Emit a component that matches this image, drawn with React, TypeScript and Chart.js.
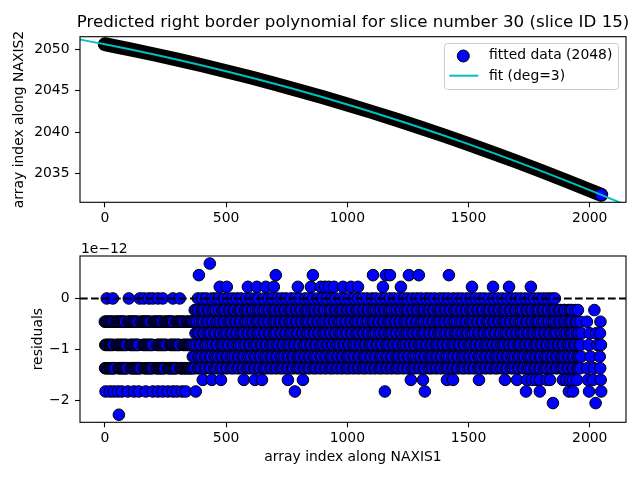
import { useEffect, useRef } from "react";
import { Chart, registerables, type ChartConfiguration, type Plugin } from "chart.js";

Chart.register(...registerables);

const FONT = "'DejaVu Sans', sans-serif";
const TICK_SIZE = 13.9;
const BLUE = "#0000ff";
const CYAN = "#00bfbf";

Chart.defaults.font.family = FONT;
Chart.defaults.font.size = TICK_SIZE;
Chart.defaults.color = "#000";

// ---- top panel: right border read along the band, and the deg=3 fit ----
const borderX = [0, 100, 200, 300, 400, 500, 600, 700, 800, 900, 1000, 1100, 1200, 1300, 1400, 1500, 1600, 1700, 1800, 1900, 2000, 2047];
const borderY = [2050.61, 2050.02, 2049.4, 2048.75, 2048.07, 2047.36, 2046.62, 2045.85, 2045.04, 2044.21, 2043.35, 2042.45, 2041.53, 2040.57, 2039.58, 2038.57, 2037.52, 2036.44, 2035.33, 2034.19, 2033.02, 2032.46];
const fitX = [-150, 0, 250, 500, 750, 1000, 1250, 1500, 1750, 2000, 2200];
const fitY = [2051.44, 2050.61, 2049.08, 2047.36, 2045.45, 2043.35, 2041.05, 2038.57, 2035.89, 2033.02, 2030.59];
const xTicks = [0, 500, 1000, 1500, 2000];
const topYTicks = [2035, 2040, 2045, 2050];

// ---- bottom panel: residuals (units of 1e-12) fall on discrete levels ----
const residualLevels = [0.682, 0.455, 0.227, 0, -0.227, -0.455, -0.682, -0.909, -1.137, -1.364, -1.592, -1.819, -2.046, -2.274];
const bottomYTicks = [-2, -1, 0];

const xAtPlus0682 = [433];
const xAtPlus0455 = [388, 705, 858, 1106, 1159, 1176, 1254, 1295, 1419];
const xAtPlus0227 = [474, 503, 590, 627, 664, 697, 796, 850, 891, 908, 924, 945, 982, 1015, 1044, 1147, 1221, 1514, 1601, 1667, 1757];
const xAtZero = [
  8, 33, 99, 144, 161, 182, 198, 219, 239, 281, 309,
  384, 402, 418, 441, 456, 470, 493, 509, 527, 545, 562, 583, 601, 620, 634, 655, 676, 690, 712, 730, 747, 768, 785, 803, 826, 842, 860, 879, 897, 915, 936, 951, 972, 990, 1006, 1028, 1046, 1063, 1081, 1102, 1118, 1139, 1157, 1176, 1193, 1212, 1233, 1249, 1268, 1287, 1304, 1325, 1342, 1360, 1381, 1398, 1416, 1437, 1455, 1472, 1493, 1510, 1529, 1548, 1566, 1587, 1603, 1622, 1640, 1659, 1680, 1697, 1715, 1734, 1752, 1771, 1790, 1808, 1826, 1842, 1856,
];
const xAtMinus0227 = [
  371, 377, 386, 399, 404, 412, 425, 431, 444, 452, 458, 471, 484, 490, 497, 511, 518, 530, 536, 549, 557, 563, 578, 585, 592, 606, 611, 624, 633, 640, 653, 660, 671, 679, 693, 699, 706, 720, 727, 739, 744, 758, 766, 773, 787, 793, 806, 812, 826, 833, 840, 852, 861, 869, 882, 889, 902, 907, 921, 929, 935, 949, 955, 968, 976, 983, 997,
  1004, 1016, 1022, 1036, 1042, 1050, 1064, 1071, 1084, 1089, 1103, 1110, 1118, 1131, 1138, 1151, 1157, 1170, 1177, 1185, 1198, 1206, 1219, 1225, 1238, 1246, 1253, 1267, 1273, 1286, 1292, 1306, 1314, 1320, 1334, 1341, 1353, 1359, 1373, 1381, 1388, 1401, 1408, 1421, 1427, 1440, 1447, 1455, 1468, 1475, 1488, 1493,
  1507, 1515, 1522, 1536, 1542, 1555, 1561, 1575, 1583, 1589, 1603, 1610, 1623, 1628, 1642, 1649, 1657, 1670, 1677, 1690, 1696, 1709, 1717, 1724, 1738, 1745, 1757, 1763, 1777, 1785, 1792, 1805, 1812, 1825, 1830, 1844, 1851, 1859, 1872, 1879, 1892, 1898, 1911, 1919, 1926, 1940, 1951, 2019,
];
const xAtMinus0455 = [
  0, 4, 8, 12, 15, 19, 23, 27, 31, 35, 44, 48, 52, 55, 59, 63, 67, 71, 75, 79, 83, 96, 100, 103, 107, 111, 115, 119, 123, 127, 131, 135, 148, 152, 156, 160, 163, 167, 171, 175, 179, 183, 187, 200, 204, 208, 212, 216, 219, 223, 227, 231, 235, 246, 250, 254, 258, 262, 266, 270, 273, 277, 281, 294, 298, 302, 306, 310, 314, 318, 322, 326, 337, 341, 345, 349, 353, 357, 361, 365,
  372, 380, 393, 401, 408, 421, 428, 440, 447, 461, 467, 476, 489, 495, 509, 516, 523, 537, 543, 556, 563, 577, 583, 592, 604, 611, 625, 631, 639, 652, 659, 672, 679, 693, 699, 707, 720, 727, 740, 746, 760, 767, 775, 788, 794, 808, 814, 828, 835, 843, 856, 862, 876, 882, 895, 902, 911, 923, 930, 944, 950, 963, 970, 978, 991, 998,
  1011, 1018, 1031, 1038, 1046, 1059, 1066, 1079, 1086, 1099, 1106, 1114, 1127, 1133, 1147, 1153, 1167, 1174, 1182, 1195, 1201, 1215, 1221, 1234, 1241, 1250, 1262, 1269, 1283, 1289, 1302, 1309, 1317, 1330, 1337, 1350, 1357, 1370, 1377, 1385, 1398, 1405, 1418, 1425, 1438, 1445, 1453, 1466, 1473, 1486, 1493,
  1506, 1513, 1521, 1534, 1541, 1554, 1560, 1574, 1581, 1589, 1602, 1608, 1622, 1628, 1641, 1648, 1657, 1670, 1676, 1690, 1696, 1709, 1716, 1724, 1737, 1744, 1757, 1764, 1777, 1784, 1792, 1805, 1812, 1825, 1832, 1845, 1852, 1860, 1873, 1880, 1893, 1900, 1913, 1920, 1928, 1941, 1948, 1961, 1988, 2044,
];
const xAtMinus0682 = [
  374, 383, 390, 404, 410, 423, 431, 437, 451, 459, 472, 478, 491, 498, 507, 519, 526, 540, 546, 560, 567, 574, 588, 595, 608, 614, 627, 634, 643, 656, 662, 676, 683, 696, 702, 710, 724, 730, 744, 750, 763, 770, 779, 791, 798, 812, 818, 831, 838, 846, 860, 866, 879, 886, 899, 906, 914, 927, 934, 947, 954, 967, 974, 982, 995,
  1002, 1015, 1022, 1035, 1042, 1050, 1063, 1070, 1083, 1090, 1103, 1110, 1118, 1131, 1138, 1151, 1158, 1171, 1178, 1186, 1199, 1206, 1219, 1226, 1239, 1246, 1254, 1267, 1274, 1287, 1294, 1307, 1314, 1322, 1335, 1342, 1355, 1362, 1375, 1382, 1390, 1403, 1410, 1423, 1430, 1443, 1450, 1458, 1471, 1478, 1491, 1498,
  1511, 1518, 1526, 1539, 1546, 1559, 1566, 1579, 1586, 1594, 1607, 1614, 1627, 1634, 1647, 1654, 1662, 1675, 1682, 1695, 1702, 1715, 1722, 1730, 1743, 1750, 1763, 1770, 1783, 1790, 1798, 1811, 1818, 1831, 1838, 1851, 1858, 1866, 1879, 1886, 1899, 1906, 1919, 1926, 1934, 1947, 1955, 1966, 2000, 2026, 2042,
];
const xAtMinus0909 = [
  2, 6, 10, 14, 18, 22, 26, 30, 34, 46, 50, 54, 58, 62, 66, 70, 74, 78, 82, 86, 90, 103, 107, 111, 115, 119, 123, 127, 131, 135, 139, 157, 161, 165, 169, 173, 177, 181, 185, 189, 193, 197, 214, 218, 222, 226, 230, 234, 238, 242, 246, 250, 254, 268, 272, 276, 280, 284, 288, 292, 296, 300, 304, 308, 322, 326, 330, 334, 338, 342, 346, 350, 354, 358, 362,
  369, 378, 391, 397, 411, 417, 426, 438, 446, 459, 465, 479, 485, 494, 507, 513, 527, 534, 547, 553, 562, 575, 582, 595, 601, 615, 622, 630, 643, 650, 663, 669, 683, 690, 698, 711, 718, 731, 737, 751, 758, 766, 779, 786, 799, 805, 819, 826, 834, 847, 854, 867, 873, 887, 894, 902, 915, 922, 935, 941, 955, 962, 970, 983, 990,
  1003, 1009, 1023, 1030, 1038, 1051, 1058, 1071, 1077, 1091, 1098, 1106, 1119, 1126, 1139, 1145, 1159, 1166, 1174, 1187, 1194, 1207, 1213, 1227, 1234, 1242, 1255, 1262, 1275, 1281, 1295, 1302, 1310, 1323, 1330, 1343, 1349, 1363, 1370, 1378, 1391, 1398, 1411, 1417, 1431, 1438, 1446, 1459, 1466, 1479, 1485, 1499,
  1506, 1514, 1527, 1534, 1547, 1553, 1567, 1574, 1582, 1595, 1602, 1615, 1621, 1635, 1642, 1650, 1663, 1670, 1683, 1689, 1703, 1710, 1718, 1731, 1738, 1751, 1757, 1771, 1778, 1786, 1799, 1806, 1819, 1825, 1839, 1846, 1854, 1867, 1874, 1887, 1893, 1907, 1914, 1922, 1935, 1942, 1955, 1962, 1996, 2031, 2046,
];
const xAtMinus1137 = [
  363, 372, 385, 392, 400, 413, 420, 433, 439, 453, 460, 468, 481, 488, 501, 507, 521, 528, 536, 549, 556, 569, 575, 589, 596, 604, 617, 624, 637, 643, 657, 664, 672, 685, 692, 705, 711, 725, 732, 740, 753, 760, 773, 779, 793, 800, 808, 821, 828, 841, 847, 861, 868, 876, 889, 896, 909, 915, 929, 936, 944, 957, 964, 977, 983, 997,
  1004, 1012, 1025, 1032, 1045, 1051, 1065, 1072, 1080, 1093, 1100, 1113, 1119, 1133, 1140, 1148, 1161, 1168, 1181, 1187, 1201, 1208, 1216, 1229, 1236, 1249, 1255, 1269, 1276, 1284, 1297, 1304, 1317, 1323, 1337, 1344, 1352, 1365, 1372, 1385, 1391, 1405, 1412, 1420, 1433, 1440, 1453, 1459, 1473, 1480, 1488,
  1501, 1508, 1521, 1527, 1541, 1548, 1556, 1569, 1576, 1589, 1595, 1609, 1616, 1624, 1637, 1644, 1657, 1663, 1677, 1684, 1692, 1705, 1712, 1725, 1731, 1745, 1752, 1760, 1773, 1780, 1793, 1799, 1813, 1820, 1828, 1841, 1848, 1861, 1867, 1881, 1888, 1896, 1909, 1916, 1929, 1935, 1949, 1956, 1964, 2003, 2041,
];
const xAtMinus1364 = [
  1, 5, 9, 13, 17, 21, 25, 29, 33, 37, 41, 56, 60, 64, 68, 72, 76, 80, 84, 88, 92, 107, 111, 115, 119, 123, 127, 131, 135, 139, 143, 147, 162, 166, 170, 174, 178, 182, 186, 190, 194, 198, 211, 215, 219, 223, 227, 231, 235, 239, 243, 247, 260, 264, 268, 272, 276, 280, 284, 288, 292, 296, 311, 315, 319, 323, 327, 331, 335, 339, 343, 347, 351, 355, 359, 365,
  371, 384, 390, 398, 411, 418, 431, 437, 451, 458, 466, 479, 486, 499, 505, 519, 526, 534, 547, 554, 567, 573, 587, 594, 602, 615, 622, 635, 641, 655, 662, 670, 683, 690, 703, 709, 723, 730, 738, 751, 758, 771, 777, 791, 798, 806, 819, 826, 839, 845, 859, 866, 874, 887, 894, 907, 913, 927, 934, 942, 955, 962, 975, 981, 995,
  1002, 1010, 1023, 1030, 1043, 1049, 1063, 1070, 1078, 1091, 1098, 1111, 1117, 1131, 1138, 1146, 1159, 1166, 1179, 1185, 1199, 1206, 1214, 1227, 1234, 1247, 1253, 1267, 1274, 1282, 1295, 1302, 1315, 1321, 1335, 1342, 1350, 1363, 1370, 1383, 1389, 1403, 1410, 1418, 1431, 1438, 1451, 1457, 1471, 1478, 1486, 1499,
  1506, 1519, 1525, 1539, 1546, 1554, 1567, 1574, 1587, 1593, 1607, 1614, 1622, 1635, 1642, 1655, 1661, 1675, 1682, 1690, 1703, 1710, 1723, 1729, 1743, 1750, 1758, 1771, 1778, 1791, 1797, 1811, 1818, 1826, 1839, 1846, 1859, 1865, 1879, 1886, 1894, 1907, 1914, 1927, 1933, 1947, 1954, 1962, 1990, 2017, 2043,
];
const xAtMinus1592 = [404, 441, 479, 573, 619, 648, 755, 817, 1262, 1312, 1411, 1436, 1543, 1650, 1700, 1741, 1761, 1778, 1794, 1823, 1836, 1889, 1902, 1918, 1931, 1947, 1992, 2013, 2045];
const xAtMinus1819 = [3, 21, 37, 54, 70, 95, 120, 140, 169, 198, 219, 239, 260, 281, 297, 318, 334, 375, 784, 1155, 1320, 1737, 1794, 1914, 1931, 1997, 2047];
const xAtMinus2046 = [1848, 2024];
const xAtMinus2274 = [58];

// same order as residualLevels
const levelColumns = [
  xAtPlus0682, xAtPlus0455, xAtPlus0227, xAtZero, xAtMinus0227, xAtMinus0455, xAtMinus0682,
  xAtMinus0909, xAtMinus1137, xAtMinus1364, xAtMinus1592, xAtMinus1819, xAtMinus2046, xAtMinus2274,
];

// matplotlib-style 5% margins around the data
function padded(values: number[]) {
  const lo = Math.min(...values);
  const hi = Math.max(...values);
  const m = (hi - lo) * 0.05;
  return [lo - m, hi + m];
}

const fmt = (v: number) => (v < 0 ? "\u2212" + Math.abs(v) : String(v));

function scaleX(ticks: number[], range: number[], height: number, title?: string) {
  return {
    type: "linear" as const,
    min: range[0],
    max: range[1],
    afterBuildTicks: (s: any) => {
      s.ticks = ticks.map((value) => ({ value }));
    },
    afterFit: (s: any) => {
      s.height = height;
    },
    ticks: { padding: 2.4, font: { size: TICK_SIZE }, color: "#000", callback: (v: any) => fmt(Number(v)) },
    grid: { display: true, drawOnChartArea: false, drawTicks: true, tickLength: 5, tickWidth: 1.1, tickColor: "#000" },
    border: { display: false },
    title: title
      ? { display: true, text: title, font: { size: TICK_SIZE }, color: "#000", padding: { top: 0, bottom: 14.5 } }
      : { display: false },
  };
}

function scaleY(ticks: number[], range: number[], title: string, titlePad: number) {
  return {
    type: "linear" as const,
    min: range[0],
    max: range[1],
    afterBuildTicks: (s: any) => {
      s.ticks = ticks.map((value) => ({ value }));
    },
    afterFit: (s: any) => {
      s.width = 80;
    },
    ticks: { padding: 5.5, font: { size: TICK_SIZE }, color: "#000", callback: (v: any) => fmt(Number(v)) },
    grid: { display: true, drawOnChartArea: false, drawTicks: true, tickLength: 5, tickWidth: 1.1, tickColor: "#000" },
    border: { display: false },
    title: { display: true, text: title, font: { size: TICK_SIZE }, color: "#000", padding: { top: titlePad, bottom: 0 } },
  };
}

const framePlugin: Plugin = {
  id: "frame",
  afterDraw(chart) {
    const { ctx, chartArea: a } = chart;
    ctx.save();
    ctx.strokeStyle = "#000";
    ctx.lineWidth = 1.1;
    ctx.strokeRect(a.left, a.top, a.right - a.left, a.bottom - a.top);
    ctx.restore();
  },
};

const topDecor: Plugin = {
  id: "topDecor",
  afterDraw(chart) {
    const { ctx, chartArea: a } = chart;
    ctx.save();
    ctx.fillStyle = "#000";
    ctx.font = `16.67px ${FONT}`;
    ctx.textAlign = "center";
    ctx.textBaseline = "alphabetic";
    ctx.fillText("Predicted right border polynomial for slice number 30 (slice ID 15)", (a.left + a.right) / 2, 27.3);

    // legend, upper right
    ctx.beginPath();
    ctx.roundRect(444.5, 43.5, 174, 46, 3);
    ctx.fillStyle = "rgba(255,255,255,0.8)";
    ctx.fill();
    ctx.strokeStyle = "#cccccc";
    ctx.lineWidth = 1;
    ctx.stroke();

    ctx.beginPath();
    ctx.arc(463.3, 56, 6, 0, Math.PI * 2);
    ctx.fillStyle = BLUE;
    ctx.fill();
    ctx.strokeStyle = "#000";
    ctx.stroke();

    ctx.beginPath();
    ctx.moveTo(449.3, 75.7);
    ctx.lineTo(478.3, 75.7);
    ctx.strokeStyle = CYAN;
    ctx.lineWidth = 2;
    ctx.stroke();

    ctx.fillStyle = "#000";
    ctx.font = `${TICK_SIZE}px ${FONT}`;
    ctx.textAlign = "left";
    ctx.textBaseline = "middle";
    ctx.fillText("fitted data (2048)", 489, 55);
    ctx.fillText("fit (deg=3)", 489, 76);
    ctx.restore();
  },
};

const bottomDecor: Plugin = {
  id: "bottomDecor",
  afterDraw(chart) {
    const { ctx, chartArea: a } = chart;
    ctx.save();
    ctx.fillStyle = "#000";
    ctx.font = `${TICK_SIZE}px ${FONT}`;
    ctx.textAlign = "left";
    ctx.textBaseline = "alphabetic";
    ctx.fillText("1e\u221212", a.left + 1, 12.5);
    ctx.restore();
  },
};

function makeTop(): ChartConfiguration {
  const xr = padded(borderX);
  const yr = padded(borderY);
  const last = borderX.length - 1;
  return {
    type: "scatter",
    data: {
      datasets: [
        {
          label: "fit (deg=3)",
          data: fitX.map((x, i) => ({ x, y: fitY[i] })),
          showLine: true,
          borderColor: CYAN,
          borderWidth: 2,
          pointRadius: 0,
          cubicInterpolationMode: "monotone",
          clip: 0,
          order: 0,
        },
        {
          label: "fitted data (2048)",
          data: borderX.map((x, i) => ({ x, y: borderY[i] })),
          showLine: true,
          borderColor: "#000",
          borderWidth: 14,
          borderCapStyle: "round",
          borderJoinStyle: "round",
          cubicInterpolationMode: "monotone",
          pointRadius: (c: any) => (c.dataIndex === last ? 6 : 0),
          pointBackgroundColor: BLUE,
          pointBorderColor: "#000",
          pointBorderWidth: 1,
          clip: 0,
          order: 1,
        },
      ],
    } as any,
    options: {
      responsive: true,
      maintainAspectRatio: false,
      animation: false,
      events: [],
      layout: { padding: { top: 36.7, right: 14, left: 0, bottom: 0 } },
      plugins: { legend: { display: false }, tooltip: { enabled: false } },
      scales: {
        x: scaleX(xTicks, xr, 37.7),
        y: scaleY(topYTicks, yr, "array index along NAXIS2", 11),
      } as any,
    },
    plugins: [framePlugin, topDecor],
  };
}

function makeBottom(): ChartConfiguration {
  const points = levelColumns
    .flatMap((xs, i) => xs.map((x) => ({ x, y: residualLevels[i] })))
    .sort((p, q) => p.x - q.x);
  const xr = padded(borderX);
  const yr = padded(residualLevels);
  return {
    type: "scatter",
    data: {
      datasets: [
        {
          label: "zero",
          data: [{ x: xr[0], y: 0 }, { x: xr[1], y: 0 }],
          showLine: true,
          borderColor: "#000",
          borderWidth: 2,
          borderDash: [7.7, 3.3],
          pointRadius: 0,
          clip: 0,
          order: 0,
        },
        {
          label: "residuals",
          data: points,
          pointRadius: 5.8,
          pointBackgroundColor: BLUE,
          pointBorderColor: "#000",
          pointBorderWidth: 1,
          order: 1,
        },
      ],
    } as any,
    options: {
      responsive: true,
      maintainAspectRatio: false,
      animation: false,
      events: [],
      layout: { padding: { top: 16, right: 14, left: 0, bottom: 0 } },
      plugins: { legend: { display: false }, tooltip: { enabled: false } },
      scales: {
        x: scaleX(xTicks, xr, 57.7, "array index along NAXIS1"),
        y: scaleY(bottomYTicks, yr, "residuals", 30),
      } as any,
    },
    plugins: [framePlugin, bottomDecor],
  };
}

function Panel({ make, top }: { make: () => ChartConfiguration; top: number }) {
  const canvasRef = useRef<HTMLCanvasElement>(null);
  useEffect(() => {
    const canvas = canvasRef.current;
    if (!canvas) return;
    const chart = new Chart(canvas, make());
    return () => chart.destroy();
  }, [make]);
  return (
    <div style={{ position: "absolute", left: 0, top, width: 640, height: 240 }}>
      <canvas ref={canvasRef} />
    </div>
  );
}

export default function App() {
  return (
    <div style={{ position: "absolute", left: 0, top: 0, width: 640, height: 480, background: "#fff", overflow: "hidden" }}>
      <Panel make={makeTop} top={0} />
      <Panel make={makeBottom} top={240} />
    </div>
  );
}
